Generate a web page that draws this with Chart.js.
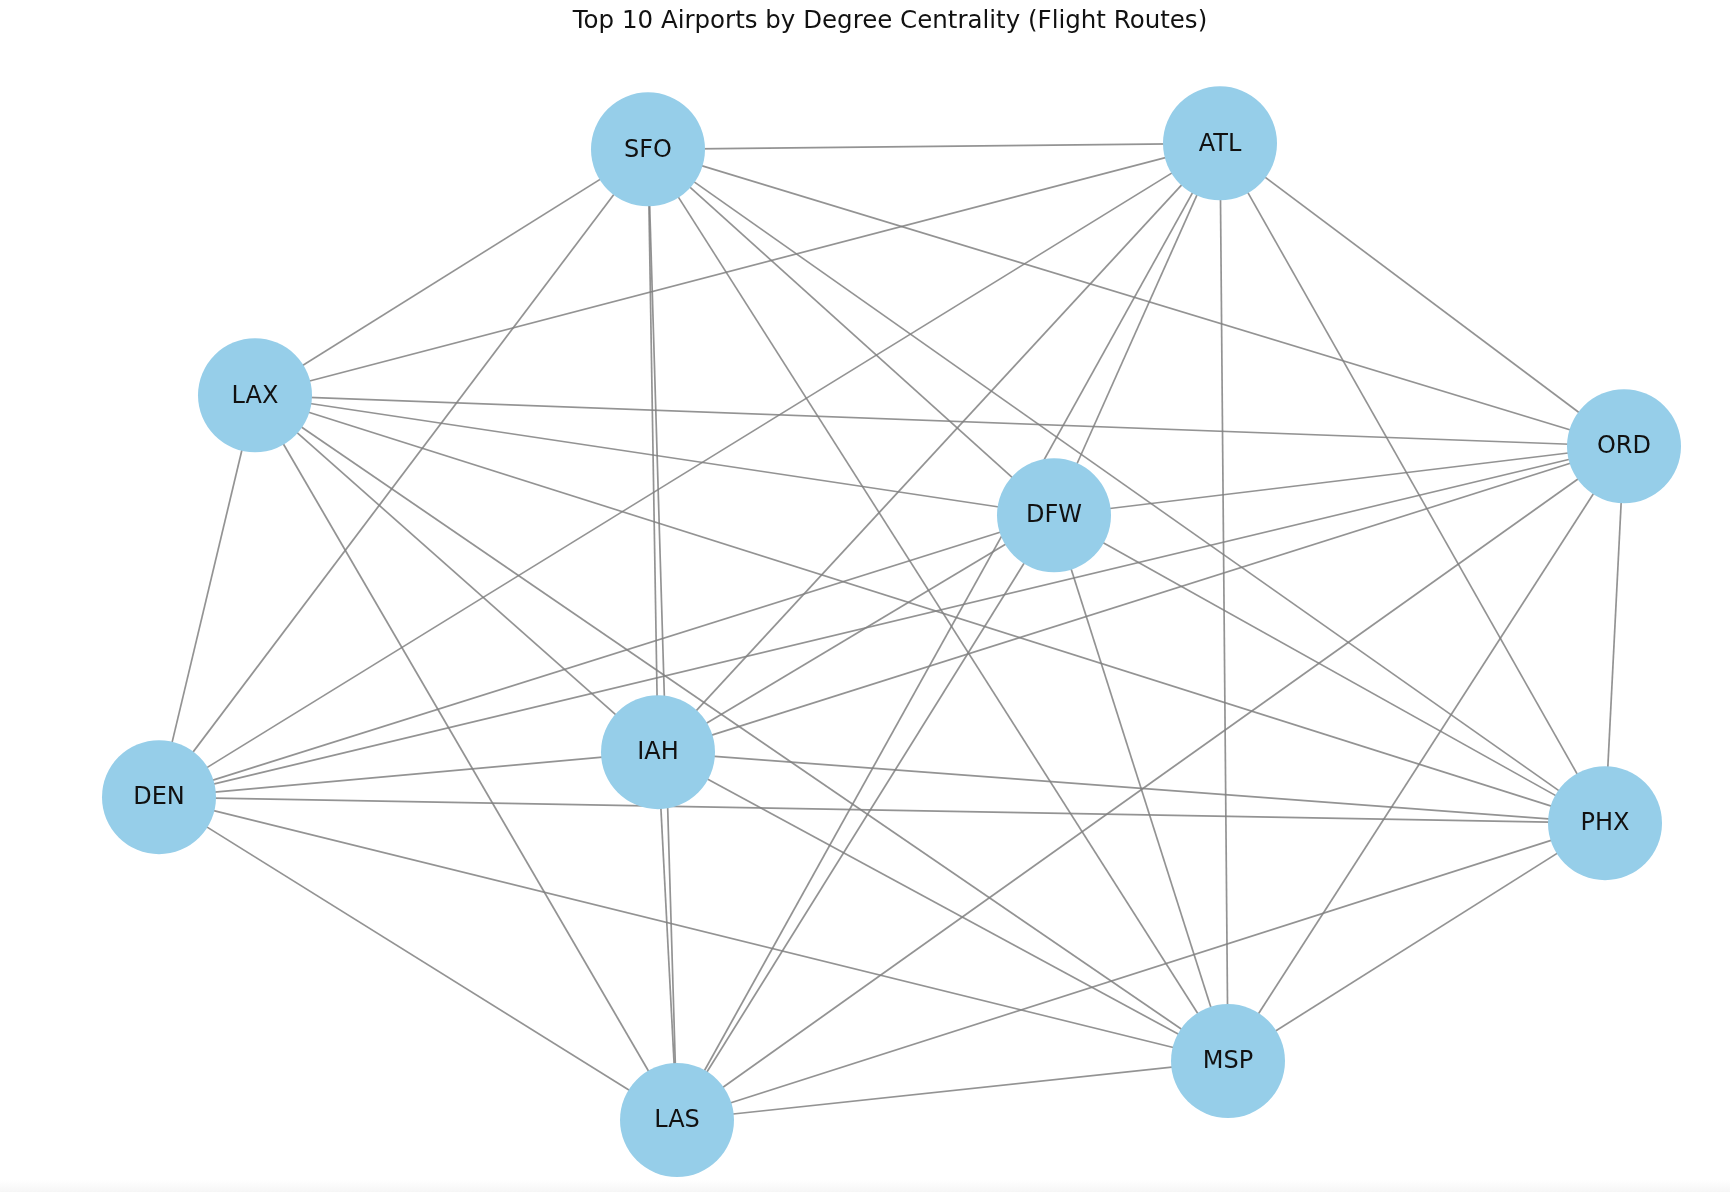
<!DOCTYPE html>
<html>
<head>
<meta charset="utf-8">
<title>Top 10 Airports by Degree Centrality</title>
<script src="https://cdn.jsdelivr.net/npm/chart.js@4.4.1/dist/chart.umd.min.js"></script>
<style>
  html, body { margin: 0; padding: 0; background: #fff; }
  #wrap {
    width: 1730px; height: 1192px;
    background: linear-gradient(to bottom, #fff 0, #fff 1180px, #f6f6f6 1192px);
  }
</style>
</head>
<body>
<div id="wrap"><canvas id="graph" width="1730" height="1192"></canvas></div>
<script>
// Airports and their layout positions
const airports = ["SFO", "ATL", "LAX", "ORD", "DFW", "IAH", "DEN", "PHX", "MSP", "LAS"];
const posX = [648, 1220, 255, 1624, 1054, 658, 159, 1605, 1228, 677];
const posY = [149, 143, 395, 446, 515, 752, 797, 823, 1061, 1120];

// Flight routes between the airports
const routes = [
  ["SFO", "ATL"], ["SFO", "LAX"], ["SFO", "ORD"], ["SFO", "DFW"], ["SFO", "IAH"],
  ["SFO", "DEN"], ["SFO", "PHX"], ["SFO", "MSP"], ["SFO", "LAS"],
  ["ATL", "LAX"], ["ATL", "ORD"], ["ATL", "DFW"], ["ATL", "IAH"], ["ATL", "DEN"],
  ["ATL", "PHX"], ["ATL", "MSP"], ["ATL", "LAS"],
  ["LAX", "ORD"], ["LAX", "DFW"], ["LAX", "IAH"], ["LAX", "DEN"], ["LAX", "PHX"],
  ["LAX", "MSP"], ["LAX", "LAS"],
  ["ORD", "DFW"], ["ORD", "IAH"], ["ORD", "DEN"], ["ORD", "PHX"], ["ORD", "MSP"], ["ORD", "LAS"],
  ["DFW", "IAH"], ["DFW", "DEN"], ["DFW", "PHX"], ["DFW", "MSP"], ["DFW", "LAS"],
  ["IAH", "DEN"], ["IAH", "PHX"], ["IAH", "MSP"], ["IAH", "LAS"],
  ["DEN", "PHX"], ["DEN", "MSP"], ["DEN", "LAS"],
  ["PHX", "MSP"], ["PHX", "LAS"],
  ["MSP", "LAS"]
];

const nodeColor = "rgb(150, 206, 233)";
const edgeColor = "rgba(128, 128, 128, 0.85)";

function point(code) {
  let i = airports.indexOf(code);
  return { x: posX[i], y: posY[i] };
}

let datasets = [{
  label: "Airports",
  data: airports.map(point),
  pointRadius: 57,
  pointHoverRadius: 57,
  pointBackgroundColor: nodeColor,
  pointBorderWidth: 0,
  showLine: false,
  order: 0,
  clip: false
}];

routes.forEach(r => {
  datasets.push({
    label: r[0] + "-" + r[1],
    data: [point(r[0]), point(r[1])],
    showLine: true,
    borderColor: edgeColor,
    borderWidth: 1.7,
    pointRadius: 0,
    order: 1,
    clip: false
  });
});

// Write the airport code in the middle of each node
const nodeLabels = {
  id: "nodeLabels",
  afterDatasetsDraw(chart) {
    const ctx = chart.ctx;
    const meta = chart.getDatasetMeta(0);
    ctx.save();
    ctx.font = "24px 'DejaVu Sans'";
    ctx.fillStyle = "#111";
    ctx.textAlign = "center";
    ctx.textBaseline = "middle";
    meta.data.forEach((el, i) => {
      ctx.fillText(airports[i], el.x, el.y + 1);
    });
    ctx.restore();
  }
};

new Chart(document.getElementById("graph").getContext("2d"), {
  type: "scatter",
  data: { datasets: datasets },
  options: {
    responsive: false,
    animation: false,
    devicePixelRatio: 1,
    layout: { autoPadding: false, padding: { left: 50, right: 0, top: 0, bottom: 0 } },
    scales: {
      x: { display: false, min: 50, max: 1730 },
      y: { display: false, min: 38, max: 1192, reverse: true }
    },
    plugins: {
      legend: { display: false },
      tooltip: { enabled: false },
      title: {
        display: true,
        fullSize: false,
        text: "Top 10 Airports by Degree Centrality (Flight Routes)",
        color: "#111",
        font: { family: "'DejaVu Sans'", size: 24.5, weight: "normal" },
        padding: { top: 7, bottom: 2 }
      }
    }
  },
  plugins: [nodeLabels]
});
</script>
</body>
</html>
